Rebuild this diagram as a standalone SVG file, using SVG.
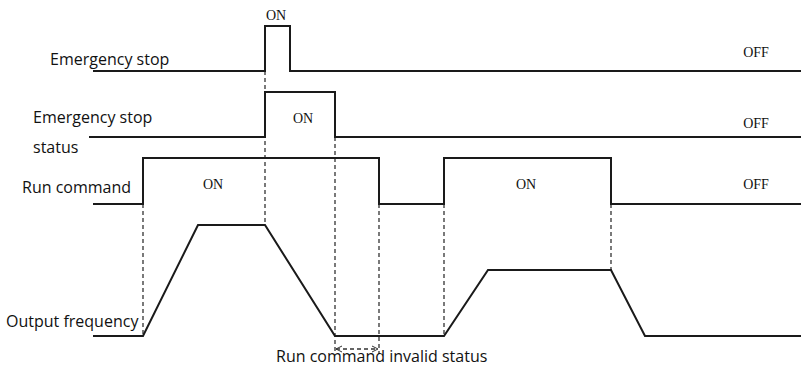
<svg xmlns="http://www.w3.org/2000/svg" width="801" height="367" viewBox="0 0 801 367">
<defs>
<style>
.sig{fill:none;stroke:#1a1a1a;stroke-width:2;stroke-linejoin:miter}
.dash{fill:none;stroke:#333;stroke-width:1.3;stroke-dasharray:4 3}
.lbl{font-family:"Open Sans","Noto Sans","Liberation Sans",sans-serif;font-size:16px;fill:#111}
.st{font-family:"Liberation Serif","DejaVu Serif",serif;font-size:14px;fill:#111;text-anchor:middle}
</style>
<marker id="ah" viewBox="0 0 8 8" refX="7" refY="4" markerWidth="8" markerHeight="8" orient="auto-start-reverse" markerUnits="userSpaceOnUse">
<path d="M1,1 L7,4 L1,7" fill="none" stroke="#333" stroke-width="1"/>
</marker>
</defs>
<rect width="801" height="367" fill="#fff"/>
<g id="connectors">
<line class="dash" x1="143" y1="204" x2="143" y2="336"/>
<line class="dash" x1="265" y1="71" x2="265" y2="225"/>
<line class="dash" x1="335" y1="137" x2="335" y2="354"/>
<line class="dash" x1="379" y1="204" x2="379" y2="354"/>
<line class="dash" x1="444" y1="204" x2="444" y2="336"/>
<line class="dash" x1="611" y1="204" x2="611" y2="270"/>
<line class="dash" x1="336" y1="349" x2="378" y2="349" marker-start="url(#ah)" marker-end="url(#ah)"/>
</g>
<g id="emergency-stop">
<polyline class="sig" points="93,71 265,71 265,26 290,26 290,71 801,71"/>
<text class="lbl" x="50" y="65">Emergency stop</text>
<text class="st" x="276" y="20">ON</text>
<text class="st" x="756" y="57">OFF</text>
</g>
<g id="emergency-stop-status">
<polyline class="sig" points="89,137 265,137 265,92 335,92 335,137 801,137"/>
<text class="lbl" x="33" y="123">Emergency stop</text>
<text class="lbl" x="33" y="153">status</text>
<text class="st" x="303" y="123">ON</text>
<text class="st" x="756" y="128">OFF</text>
</g>
<g id="run-command">
<polyline class="sig" points="93,204 143,204 143,158 379,158 379,204 444,204 444,158 611,158 611,204 801,204"/>
<text class="lbl" x="22" y="193">Run command</text>
<text class="st" x="213" y="189">ON</text>
<text class="st" x="526" y="189">ON</text>
<text class="st" x="756" y="189">OFF</text>
</g>
<g id="output-frequency">
<polyline class="sig" points="93,336 143,336 198,225 265,225 335,336 444,336 488,270 611,270 645,336 801,336"/>
<text class="lbl" x="6" y="327">Output frequency</text>
</g>
<g id="invalid-status">
<text class="lbl" x="276" y="362">Run command invalid status</text>
</g>
</svg>
